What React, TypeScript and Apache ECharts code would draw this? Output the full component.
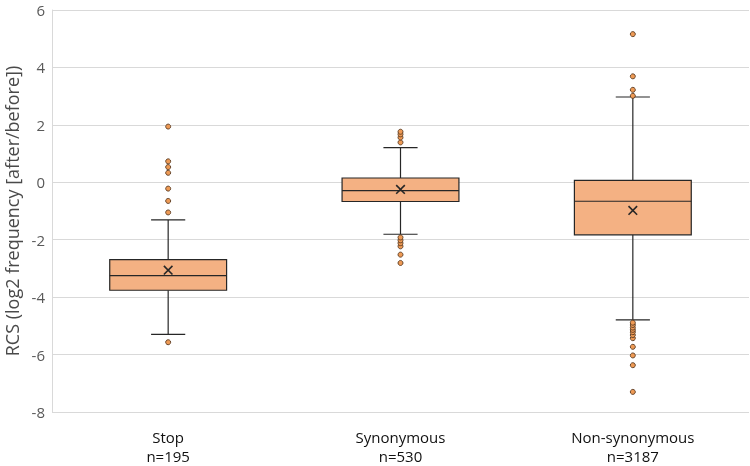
import React, { useEffect, useRef } from "react";
import * as echarts from "echarts";

const categories = ["Stop\nn=195", "Synonymous\nn=530", "Non-synonymous\nn=3187"];
// [lower whisker, Q1, median, Q3, upper whisker]
const boxStats = [
  [-5.3, -3.76, -3.25, -2.69, -1.31],
  [-1.81, -0.67, -0.29, 0.15, 1.21],
  [-4.79, -1.83, -0.66, 0.07, 2.97],
];
const means = [-3.06, -0.25, -0.98];
const outliersStop = [-5.57, -1.05, -0.65, -0.22, 0.33, 0.53, 0.73, 1.94];
const outliersSyn = [-2.81, -2.52, -2.23, -2.12, -2.02, -1.92, 1.39, 1.56, 1.67, 1.76];
const outliersNon = [-7.3, -6.37, -6.03, -5.73, -5.43, -5.32, -5.22, -5.14, -5.06, -4.97, -4.89, 3.01, 3.22, 3.69, 5.16];
const yTicks = { min: -8, max: 6, interval: 2 };

const FONT = "'Open Sans', 'Noto Sans', sans-serif";

export default function App() {
  const ref = useRef<HTMLDivElement>(null);
  useEffect(() => {
    if (!ref.current) return;
    const chart = echarts.init(ref.current, null, { renderer: "svg" });
    const boxData = boxStats.map((s, i) => [i, ...s, means[i]]);
    const outlierData: number[][] = [];
    [outliersStop, outliersSyn, outliersNon].forEach((arr, i) =>
      arr.forEach((v) => outlierData.push([i, v]))
    );
    chart.setOption({
      animation: false,
      grid: { left: 52, right: 1, top: 10, bottom: 54, containLabel: false, outerBoundsMode: "none" },
      xAxis: {
        type: "category",
        data: categories,
        axisLine: { show: false },
        axisTick: { show: false },
        axisLabel: {
          color: "#111",
          fontSize: 15,
          fontFamily: FONT,
          lineHeight: 19,
          margin: 15,
        },
      },
      yAxis: {
        type: "value",
        min: yTicks.min,
        max: yTicks.max,
        interval: yTicks.interval,
        name: "RCS (log2 frequency [after/before])",
        nameLocation: "middle",
        nameGap: 31,
        nameTextStyle: { color: "#4a4a4a", fontSize: 18, fontFamily: FONT },
        axisLine: { show: true, lineStyle: { color: "#d9d9d9" } },
        axisTick: { show: false },
        splitLine: { lineStyle: { color: "#d9d9d9", width: 1 } },
        axisLabel: { color: "#595959", fontSize: 15, fontFamily: FONT, margin: 7 },
      },
      series: [
        {
          type: "custom",
          data: boxData,
          encode: { x: 0, y: [1, 2, 3, 4, 5] },
          renderItem: (params: any, api: any) => {
            const idx = api.value(0);
            const band = api.size([1, 0])[0];
            const bw = band * 0.503;
            const cw = band * 0.147;
            const pMin = api.coord([idx, api.value(1)]);
            const pQ1 = api.coord([idx, api.value(2)]);
            const pMed = api.coord([idx, api.value(3)]);
            const pQ3 = api.coord([idx, api.value(4)]);
            const pMax = api.coord([idx, api.value(5)]);
            const pMean = api.coord([idx, api.value(6)]);
            const cx = pMed[0];
            const line = { stroke: "#262626", lineWidth: 1.2 };
            const m = 4.3;
            return {
              type: "group",
              children: [
                { type: "line", shape: { x1: cx, y1: pMax[1], x2: cx, y2: pQ3[1] }, style: line },
                { type: "line", shape: { x1: cx, y1: pQ1[1], x2: cx, y2: pMin[1] }, style: line },
                { type: "line", shape: { x1: cx - cw / 2, y1: pMax[1], x2: cx + cw / 2, y2: pMax[1] }, style: line },
                { type: "line", shape: { x1: cx - cw / 2, y1: pMin[1], x2: cx + cw / 2, y2: pMin[1] }, style: line },
                {
                  type: "rect",
                  shape: { x: cx - bw / 2, y: pQ3[1], width: bw, height: pQ1[1] - pQ3[1] },
                  style: { fill: "#F4B183", stroke: "#262626", lineWidth: 1.2 },
                },
                { type: "line", shape: { x1: cx - bw / 2, y1: pMed[1], x2: cx + bw / 2, y2: pMed[1] }, style: line },
                { type: "line", shape: { x1: cx - m, y1: pMean[1] - m, x2: cx + m, y2: pMean[1] + m }, style: { stroke: "#262626", lineWidth: 1.6 } },
                { type: "line", shape: { x1: cx - m, y1: pMean[1] + m, x2: cx + m, y2: pMean[1] - m }, style: { stroke: "#262626", lineWidth: 1.6 } },
              ],
            };
          },
        },
        {
          type: "scatter",
          data: outlierData,
          symbol: "circle",
          symbolSize: 5,
          itemStyle: { color: "#EE9A55", borderColor: "#5a3a20", borderWidth: 0.9, opacity: 1 },
          z: 5,
        },
      ],
    });
    return () => chart.dispose();
  }, []);
  return (
    <div
      ref={ref}
      style={{ position: "fixed", left: 0, top: 0, width: 750, height: 466 }}
    />
  );
}
